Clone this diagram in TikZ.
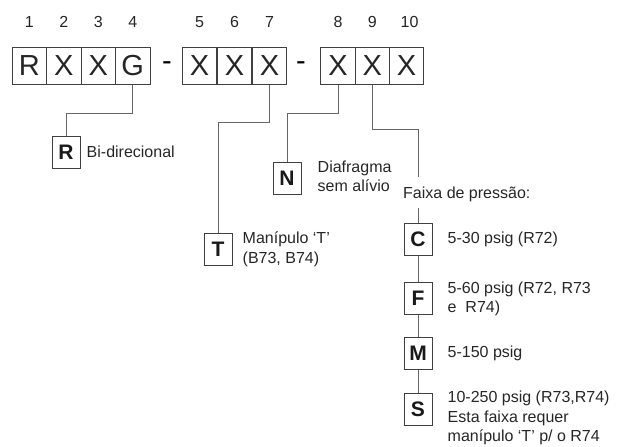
\documentclass[tikz,border=0pt]{standalone}
\usepackage{fontspec}
\setmainfont{Liberation Sans}
\usetikzlibrary{positioning}

\begin{document}
\begin{tikzpicture}[x=1pt,y=-1pt,inner sep=0pt]
\tikzstyle{digit}=[font=\fontsize{16}{18}\selectfont,text=black!85]
\tikzstyle{cell}=[rectangle,draw=black!75,line width=1pt,minimum width=34.5pt,minimum height=37pt,font=\fontsize{29}{30}\selectfont,text=black!85]
\tikzstyle{opt}=[rectangle,draw=black!75,line width=1pt,minimum width=28pt,minimum height=32pt,font=\fontsize{21}{22}\selectfont\bfseries,text=black!90]
\tikzstyle{desc}=[font=\fontsize{16}{19.5}\selectfont,align=left,text=black!85]
\tikzstyle{head}=[font=\fontsize{16}{19}\selectfont,text=black!85]
\tikzstyle{wire}=[draw=black!60,line width=1pt]
\useasboundingbox (0,0) rectangle (619,447);
% code cells
\node[cell] (c1) at (29.25,65.5) {R};
\node[cell] (c2) at (63.75,65.5) {X};
\node[cell] (c3) at (98.25,65.5) {X};
\node[cell] (c4) at (132.75,65.5) {G};
\node (d1) at (167,66) {\fontsize{29}{30}\selectfont -};
\node[cell] (c5) at (199.5,65.5) {X};
\node[cell] (c6) at (234.5,65.5) {X};
\node[cell] (c7) at (269.5,65.5) {X};
\node (d2) at (301,66) {\fontsize{29}{30}\selectfont -};
\node[cell] (c8) at (338,65.5) {X};
\node[cell] (c9) at (372.3,65.5) {X};
\node[cell] (c10) at (406.6,65.5) {X};
% position numbers
\node[digit,above=19pt of c1] (n1) {1};
\node[digit,above=19pt of c2] (n2) {2};
\node[digit,above=19pt of c3] (n3) {3};
\node[digit,above=19pt of c4] (n4) {4};
\node[digit,above=19pt of c5] (n5) {5};
\node[digit,above=19pt of c6] (n6) {6};
\node[digit,above=19pt of c7] (n7) {7};
\node[digit,above=19pt of c8] (n8) {8};
\node[digit,above=19pt of c9] (n9) {9};
\node[digit,above=19pt of c10,xshift=3pt] (n10) {10};
% options
\node[opt] (optR) at (66,152) {R};
\node[opt] (optN) at (287,178.5) {N};
\node[opt] (optT) at (218,249.5) {T};
\node[opt] (optC) at (418,239.5) {C};
\node[opt] (optF) at (418,298) {F};
\node[opt] (optM) at (418,353) {M};
\node[opt] (optS) at (418,409) {S};
\node[desc,right=6pt of optR] (txtR) {Bi-direcional};
\node[desc,right=16pt of optN,yshift=2pt] (txtN) {Diafragma\\sem alívio};
\node[desc,right=10pt of optT] (txtT) {Manípulo ‘T’\\(B73, B74)};
\node[head,anchor=base west,text height=15pt,text depth=4pt,inner ysep=6pt] (faixa) at (403,198) {Faixa de pressão:};
\node[desc,right=15pt of optC] (txtC) {5-30 psig (R72)};
\node[desc,right=15pt of optF,yshift=-1pt] (txtF) {5-60 psig (R72, R73\\e~ R74)};
\node[desc,right=15pt of optM] (txtM) {5-150 psig};
\node[desc,right=15pt of optS,yshift=-9pt] (txtS) {10-250 psig (R73,R74)\\Esta faixa requer\\manípulo ‘T’ p/ o R74};
% connectors
\draw[wire] (c4.south) -- ++(0,29) -| (optR.north);
\draw[wire] (c7.south) -- ++(0,38) -| (optT.north);
\draw[wire] (c8.south) -- ++(0,29) -| (optN.north);
\draw[wire] (c9.south) -- ++(0,45) -| (faixa.north -| optC.north);
\draw[wire] (faixa.south -| optC.north) -- (optC);
\draw[wire] (optC) -- (optF);
\draw[wire] (optF) -- (optM);
\draw[wire] (optM) -- (optS);
\end{tikzpicture}
\end{document}
